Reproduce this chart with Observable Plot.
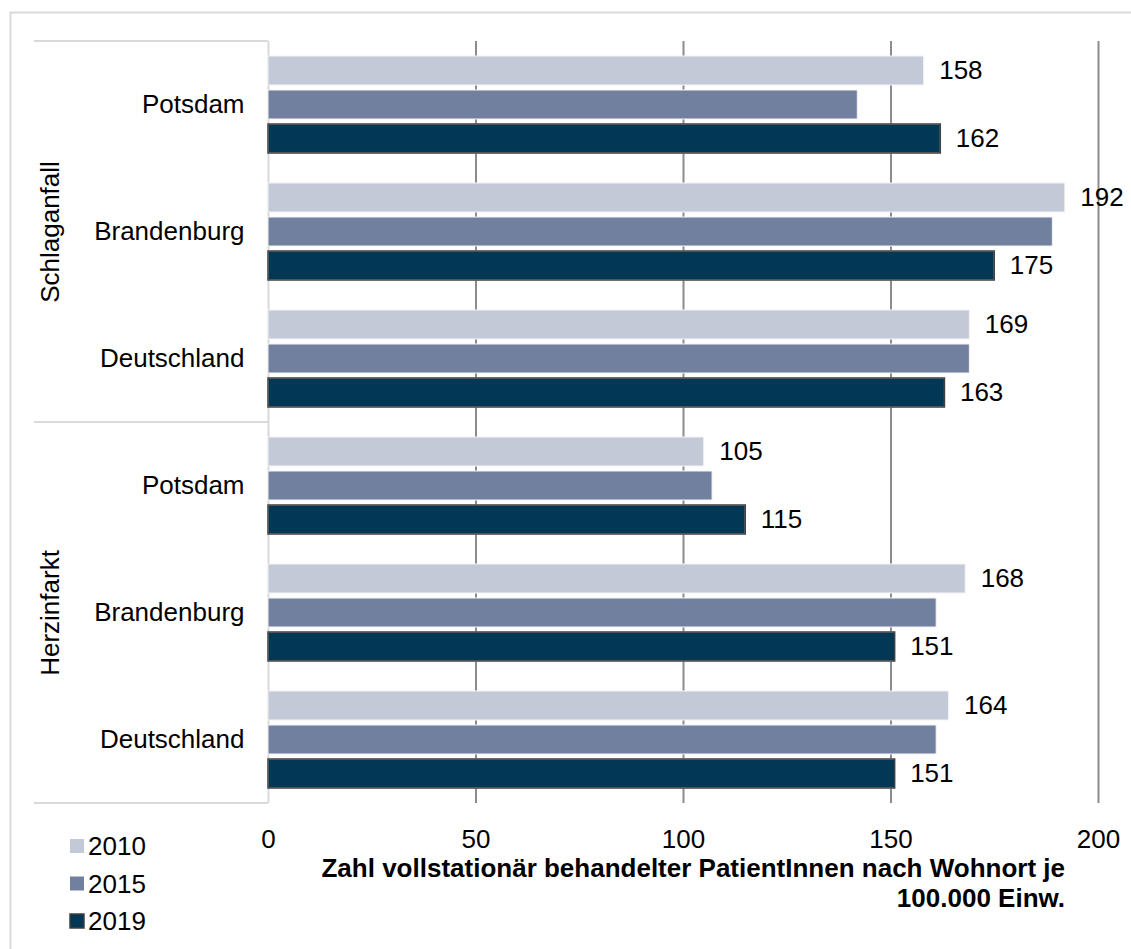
<!DOCTYPE html>
<html><head><meta charset="utf-8">
<script src="https://cdn.jsdelivr.net/npm/d3@7"></script>
<script src="https://cdn.jsdelivr.net/npm/@observablehq/plot@0.6"></script>
<style>
html,body{margin:0;padding:0;background:#fff;}
#chart{position:relative;width:1131px;height:949px;overflow:hidden;}
#chart svg{display:block;}
</style></head><body><div id="chart"></div>
<script>
// ---- data ----
const groups = ["Schlaganfall", "Herzinfarkt"];
const regions = ["Potsdam", "Brandenburg", "Deutschland"];
const years = ["2010", "2015", "2019"];
// order: Schlaganfall (Potsdam, Brandenburg, Deutschland), Herzinfarkt (Potsdam, Brandenburg, Deutschland)
const values2010 = [158, 192, 169, 105, 168, 164];
const values2015 = [142, 189, 169, 107, 161, 161];
const values2019 = [162, 175, 163, 115, 151, 151];
const labeledYears = ["2010", "2019"];
const yearColors = ["#c3c9d7", "#72809f", "#023755"];
const xTicks = [0, 50, 100, 150, 200];
const axisTitle = ["Zahl vollstationär behandelter PatientInnen nach Wohnort je", "100.000 Einw."];

// ---- build table ----
const keys = [];
const data = [];
const seriesByYear = {"2010": values2010, "2015": values2015, "2019": values2019};
groups.forEach((g, gi) => regions.forEach((r, ri) => {
  const key = g + "|" + r;
  keys.push(key);
  years.forEach(y => data.push({key, group: g, region: r, year: y, value: seriesByYear[y][gi * 3 + ri]}));
}));
const groupLabels = groups.map(g => ({key: g + "|" + regions[1], label: g}));

const FONT = "'Liberation Sans', Arial, Helvetica, sans-serif";
const FS = 26;

const plot = Plot.plot({
  width: 1131,
  height: 949,
  marginTop: 40,
  marginBottom: 146,
  marginLeft: 268,
  marginRight: 33,
  style: {fontFamily: FONT, fontSize: FS + "px", color: "#000", background: "transparent", overflow: "visible"},
  x: {domain: [0, 200], ticks: xTicks, tickSize: 0, tickPadding: 26, label: null},
  y: {domain: years, axis: null, paddingInner: 0.15, paddingOuter: 0.41},
  fy: {domain: keys, padding: 0, axis: "left", tickSize: 0, tickPadding: 24, label: null,
       tickFormat: k => k.split("|")[1]},
  color: {domain: years, range: yearColors},
  marks: [
    Plot.ruleX([50, 100, 150, 200], {stroke: "#8c8c8c", strokeWidth: 2}),
    Plot.ruleX([0], {stroke: "#d9d9d9", strokeWidth: 2}),
    Plot.barX(data, {x: "value", y: "year", fy: "key", fill: "year", stroke: "#f4f4f4", strokeWidth: 1}),
    Plot.barX(data.filter(d => d.year === "2019"), {x: "value", y: "year", fy: "key", fill: "none", stroke: "#404040", strokeWidth: 1.5}),
    Plot.text(data.filter(d => labeledYears.includes(d.year)), {
      x: "value", y: "year", fy: "key", text: d => String(d.value),
      textAnchor: "start", dx: 15, fill: "#000", fontSize: FS
    }),
    Plot.text(groupLabels, {
      fy: "key", text: "label", frameAnchor: "left", dx: -218, rotate: -90,
      textAnchor: "middle", fill: "#000", fontSize: FS
    })
  ]
});

document.getElementById("chart").appendChild(plot);

// ---- decorations using the plot's scales ----
const svg = d3.select(plot);
const fy = plot.scale("fy");
const xs = plot.scale("x");
const color = plot.scale("color");
const band = fy.bandwidth;
const top0 = fy.apply(keys[0]);
const topMid = fy.apply(keys[3]);
const bottom = fy.apply(keys[5]) + band;
const xLeft = xs.apply(0);

// outer chart border
svg.insert("path", ":first-child")
  .attr("d", `M10.5,949V12.5H1131`)
  .attr("fill", "none").attr("stroke", "#d9d9d9").attr("stroke-width", 2);

// category separators
[top0, topMid, bottom].forEach(yv => {
  svg.append("line")
    .attr("x1", 34).attr("x2", xLeft)
    .attr("y1", yv).attr("y2", yv)
    .attr("stroke", "#d9d9d9").attr("stroke-width", 2);
});

// legend
const legend = svg.append("g").attr("font-family", FONT).attr("font-size", FS).attr("text-anchor", "start");
years.forEach((yr, i) => {
  const cy = 846 + i * 37.5;
  legend.append("rect")
    .attr("x", 70).attr("y", cy - 7).attr("width", 14).attr("height", 14)
    .attr("fill", color.apply(yr))
    .attr("stroke", yr === "2019" ? "#404040" : "none").attr("stroke-width", 1.5);
  legend.append("text")
    .attr("x", 88).attr("y", cy).attr("dy", "0.35em")
    .attr("text-anchor", "start")
    .attr("fill", "#000").text(yr);
});

// axis title
const title = svg.append("g").attr("font-family", FONT).attr("font-size", FS)
  .attr("font-weight", "bold").attr("text-anchor", "end");
axisTitle.forEach((line, i) => {
  title.append("text").attr("x", 1065).attr("y", 868 + i * 30).attr("dy", "0.35em")
    .attr("text-anchor", "end")
    .attr("fill", "#000").text(line);
});
</script>
</body></html>
